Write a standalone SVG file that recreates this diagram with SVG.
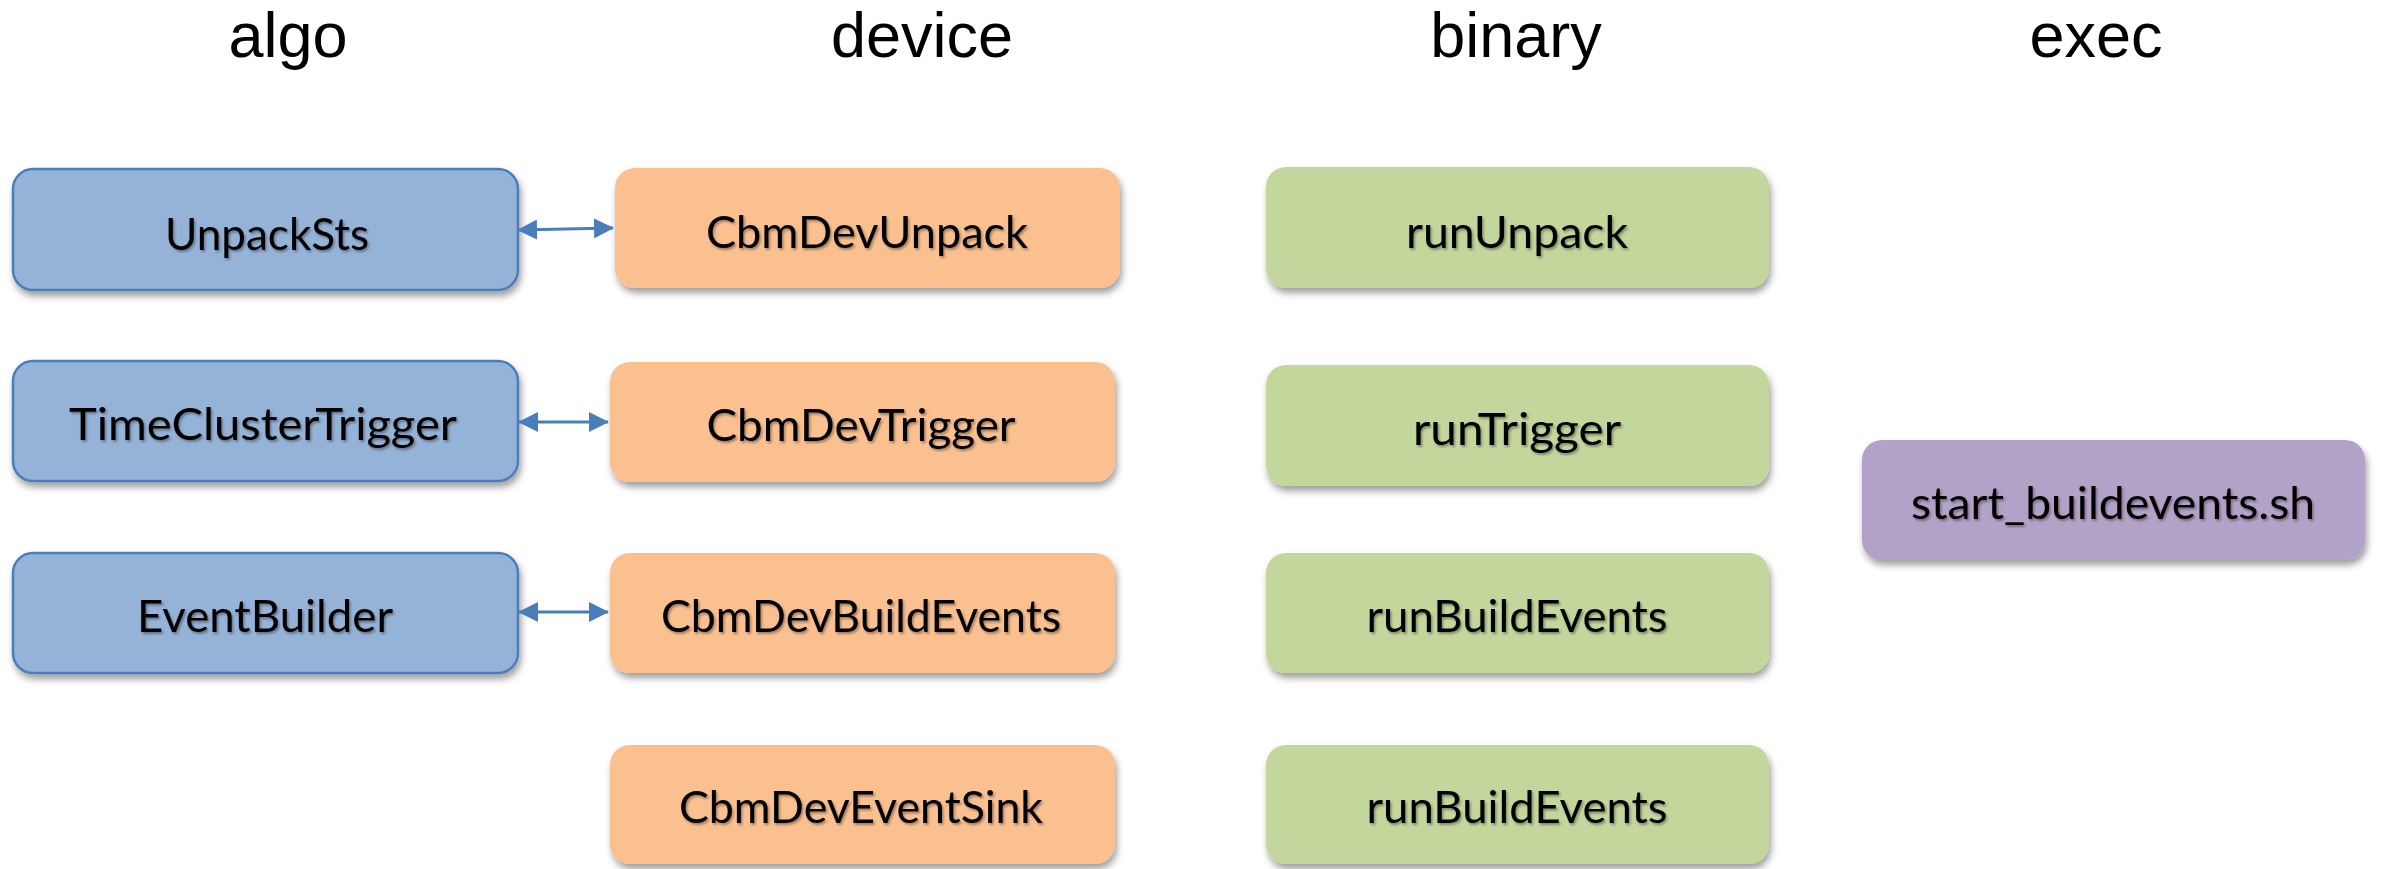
<svg xmlns="http://www.w3.org/2000/svg" width="2383" height="869" viewBox="0 0 2383 869">
  <defs>
    <filter id="boxShadow" x="-10%" y="-20%" width="120%" height="150%">
      <feDropShadow dx="2" dy="5" stdDeviation="3.5" flood-color="#000" flood-opacity="0.38"/>
    </filter>
    <filter id="textShadow" x="-5%" y="-20%" width="110%" height="150%">
      <feDropShadow dx="1.5" dy="2" stdDeviation="1.2" flood-color="#000" flood-opacity="0.35"/>
    </filter>
    <marker id="head" viewBox="0 0 20 20" refX="19" refY="10" markerWidth="20" markerHeight="20" markerUnits="userSpaceOnUse" orient="auto-start-reverse">
      <path d="M0,0 L20,10 L0,20 Z" fill="#4a7ebb"/>
    </marker>
  </defs>
  <style>
    .hdr { font-family: "Liberation Sans", Arial, sans-serif; font-size: 63px; fill: #000; text-anchor: middle; }
    .box { filter: url(#boxShadow); }
    .algo { fill: #95b3d7; stroke: #4a7ebb; stroke-width: 2.5; }
    .dev { fill: #fac090; }
    .bin { fill: #c3d69b; }
    .exec { fill: #b3a2c7; }
    .lbl { font-family: Lato, "Open Sans", sans-serif; font-size: 45px; fill: #000; text-anchor: middle; filter: url(#textShadow); }
    .link { stroke: #4a7ebb; stroke-width: 3; fill: none; marker-start: url(#head); marker-end: url(#head); }
  </style>

  <rect width="2383" height="869" fill="#fff"/>

  <!-- column headings -->
  <g id="headings">
    <text class="hdr" x="288" y="57">algo</text>
    <text class="hdr" x="922" y="57">device</text>
    <text class="hdr" x="1516" y="57">binary</text>
    <text class="hdr" x="2096" y="57">exec</text>
  </g>

  <!-- algo column -->
  <g id="UnpackSts">
    <rect class="box algo" x="13" y="169" width="505" height="121" rx="20"/>
    <text class="lbl" x="267" y="250" textLength="204" lengthAdjust="spacingAndGlyphs">UnpackSts</text>
  </g>
  <g id="TimeClusterTrigger">
    <rect class="box algo" x="13" y="361" width="505" height="120" rx="20"/>
    <text class="lbl" x="263" y="440" textLength="388" lengthAdjust="spacingAndGlyphs">TimeClusterTrigger</text>
  </g>
  <g id="EventBuilder">
    <rect class="box algo" x="13" y="553" width="505" height="120" rx="20"/>
    <text class="lbl" x="265" y="632" textLength="256" lengthAdjust="spacingAndGlyphs">EventBuilder</text>
  </g>

  <!-- device column -->
  <g id="CbmDevUnpack">
    <rect class="box dev" x="615" y="168" width="505" height="120" rx="20"/>
    <text class="lbl" x="867" y="248" textLength="322" lengthAdjust="spacingAndGlyphs">CbmDevUnpack</text>
  </g>
  <g id="CbmDevTrigger">
    <rect class="box dev" x="610" y="362" width="505" height="120" rx="20"/>
    <text class="lbl" x="861" y="441" textLength="309" lengthAdjust="spacingAndGlyphs">CbmDevTrigger</text>
  </g>
  <g id="CbmDevBuildEvents">
    <rect class="box dev" x="610" y="553" width="505" height="120" rx="20"/>
    <text class="lbl" x="861" y="632" textLength="400" lengthAdjust="spacingAndGlyphs">CbmDevBuildEvents</text>
  </g>
  <g id="CbmDevEventSink">
    <rect class="box dev" x="610" y="745" width="505" height="119" rx="20"/>
    <text class="lbl" x="861" y="823" textLength="364" lengthAdjust="spacingAndGlyphs">CbmDevEventSink</text>
  </g>

  <!-- binary column -->
  <g id="runUnpack">
    <rect class="box bin" x="1266" y="167" width="503" height="121" rx="20"/>
    <text class="lbl" x="1517" y="248" textLength="222" lengthAdjust="spacingAndGlyphs">runUnpack</text>
  </g>
  <g id="runTrigger">
    <rect class="box bin" x="1266" y="365" width="503" height="121" rx="20"/>
    <text class="lbl" x="1517" y="445" textLength="208" lengthAdjust="spacingAndGlyphs">runTrigger</text>
  </g>
  <g id="runBuildEvents">
    <rect class="box bin" x="1266" y="553" width="503" height="120" rx="20"/>
    <text class="lbl" x="1517" y="632" textLength="301" lengthAdjust="spacingAndGlyphs">runBuildEvents</text>
  </g>
  <g id="runBuildEvents2">
    <rect class="box bin" x="1266" y="745" width="503" height="119" rx="20"/>
    <text class="lbl" x="1517" y="823" textLength="301" lengthAdjust="spacingAndGlyphs">runBuildEvents</text>
  </g>

  <!-- exec column -->
  <g id="start_buildevents">
    <rect class="box exec" x="1862" y="440" width="503" height="120" rx="20"/>
    <text class="lbl" x="2113" y="519" textLength="404" lengthAdjust="spacingAndGlyphs">start_buildevents.sh</text>
  </g>

  <!-- algorithm / device links -->
  <g id="connectors">
    <line class="link" x1="518" y1="230" x2="613" y2="228"/>
    <line class="link" x1="519" y1="422" x2="608" y2="422"/>
    <line class="link" x1="519" y1="612" x2="608" y2="612"/>
  </g>
</svg>
